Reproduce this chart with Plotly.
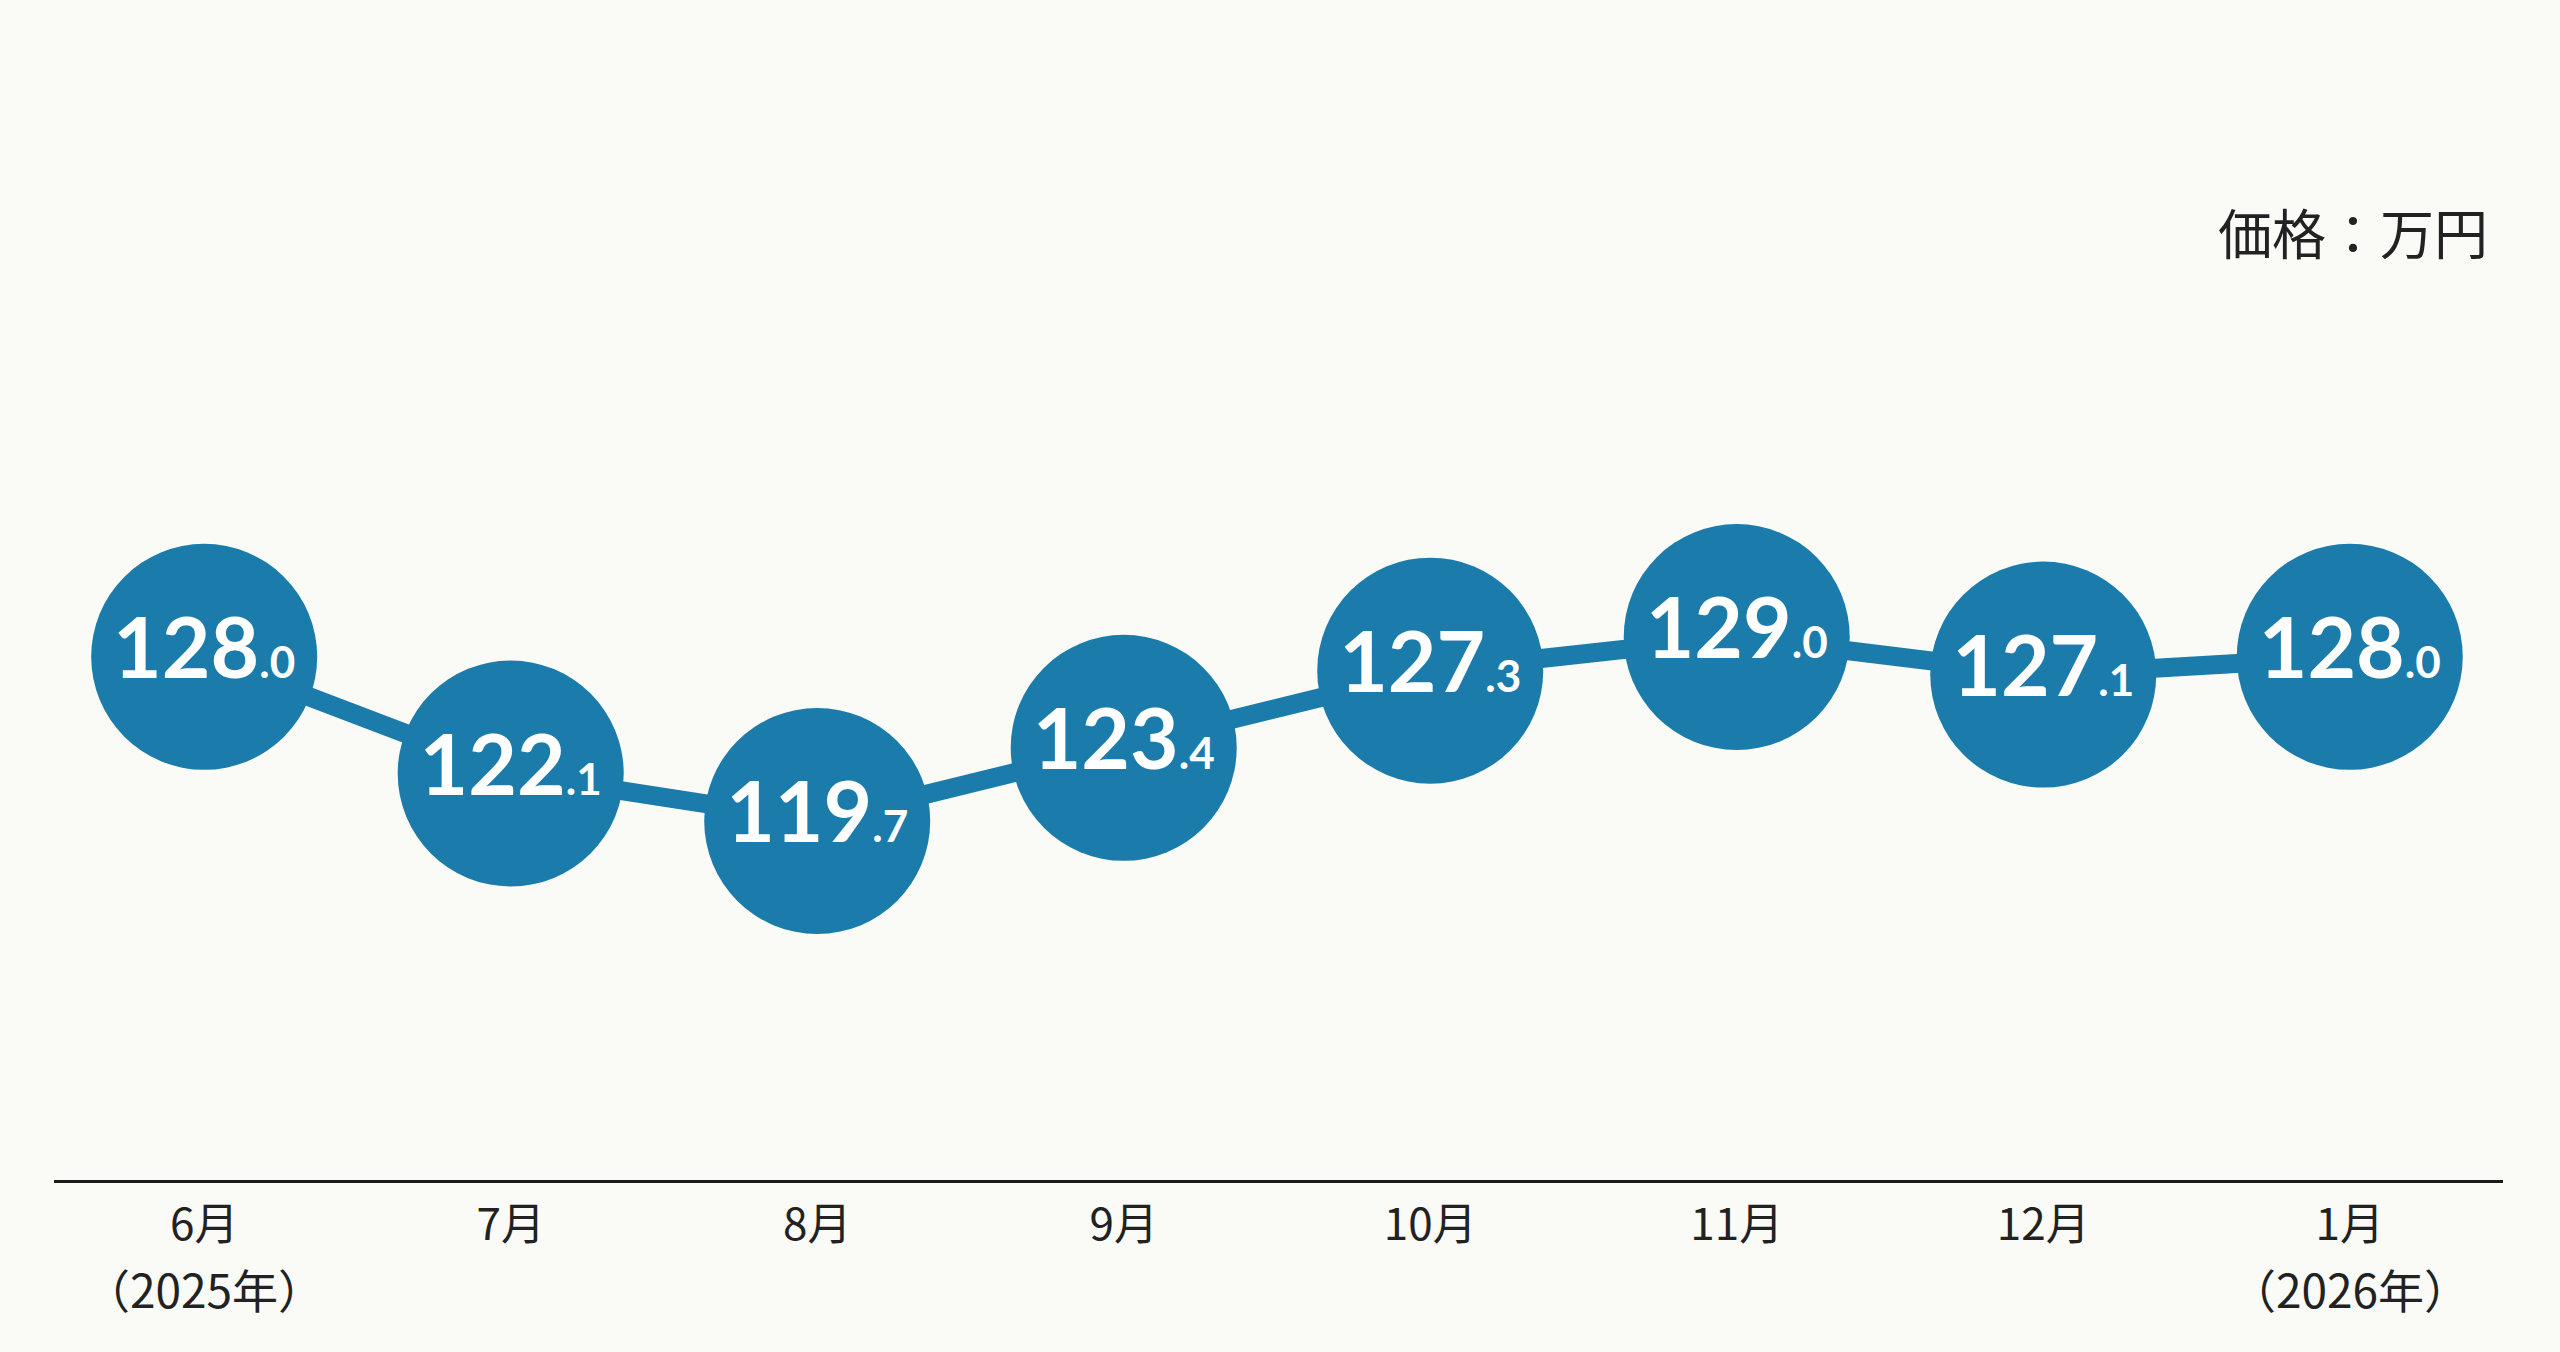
import plotly.graph_objects as go

months = ["6月", "7月", "8月", "9月", "10月", "11月", "12月", "1月"]
years = ["（2025年）", "", "", "", "", "", "", "（2026年）"]
prices = [128.0, 122.1, 119.7, 123.4, 127.3, 129.0, 127.1, 128.0]

W, H = 2560, 1352
ML, MR, MT, MB = 54, 57, 100, 172
BLUE = "#1b7cab"
INK = "#222222"
BG = "#fafaf7"

x_idx = list(range(len(months)))

def label(v):
    s = f"{v:.1f}"
    whole, dec = s.split(".")
    return f"{whole}<span style='font-size:44px'>.{dec}</span>"

fig = go.Figure()
fig.add_trace(go.Scatter(
    x=x_idx, y=prices,
    mode="lines+markers+text",
    line=dict(color=BLUE, width=19),
    marker=dict(size=226, color=BLUE, line=dict(width=0)),
    text=[label(v) for v in prices],
    textposition="middle center",
    textfont=dict(family="Lato, 'Noto Sans', sans-serif", size=84, color="white", weight="bold"),
    hoverinfo="skip",
    cliponaxis=False,
))

plot_h = H - MT - MB
annotations = [dict(
    text="価格：万円",
    xref="paper", yref="paper",
    x=(2490 - ML) / (W - ML - MR), y=(H - MB - 231) / plot_h,
    xanchor="right", yanchor="middle",
    showarrow=False,
    font=dict(family="'Noto Sans CJK JP', sans-serif", size=54, color=INK),
)]
for i, yr in enumerate(years):
    if yr:
        annotations.append(dict(
            text=yr, x=i, xref="x",
            y=(H - MB - 1288) / plot_h, yref="paper",
            xanchor="center", yanchor="middle",
            showarrow=False,
            font=dict(family="'Noto Sans CJK JP', sans-serif", size=46, color=INK),
        ))

fig.update_layout(
    width=W, height=H,
    margin=dict(l=ML, r=MR, t=MT, b=MB),
    paper_bgcolor=BG, plot_bgcolor=BG,
    showlegend=False,
    xaxis=dict(
        range=[-0.49, 7.5],
        tickmode="array", tickvals=x_idx, ticktext=months,
        showgrid=False, zeroline=False,
        showline=True, linecolor="#1a1a1a", linewidth=3,
        ticks="", ticklabelstandoff=4,
        tickfont=dict(family="'Noto Sans CJK JP', sans-serif", size=44, color=INK),
    ),
    yaxis=dict(
        range=[101.55, 156.15],
        visible=False, showgrid=False, zeroline=False,
    ),
    annotations=annotations,
)

fig.write_html(
    "out.html",
    config={"displayModeBar": False},
    post_script="document.body.style.margin='0';document.body.style.background='#fafaf7';",
)
